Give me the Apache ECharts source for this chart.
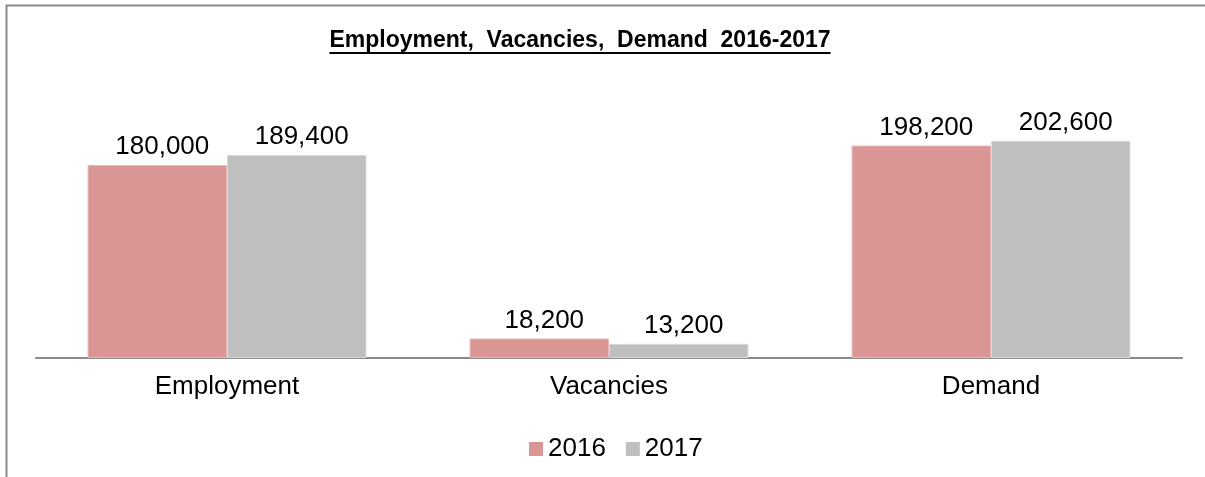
<!DOCTYPE html>
<html>
<head>
<meta charset="utf-8">
<script src="https://cdn.jsdelivr.net/npm/echarts@6/dist/echarts.min.js"></script>
<style>
  html, body { margin: 0; padding: 0; background: #fff; }
  #chart { width: 1205px; height: 477px; }
</style>
</head>
<body>
<div id="chart"></div>
<script>
var categories = ['Employment', 'Vacancies', 'Demand'];
var years = ['2016', '2017'];
var values2016 = [180000, 18200, 198200];
var values2017 = [189400, 13200, 202600];

var titleText = 'Employment,  Vacancies,  Demand  2016-2017';
var titleFont = 'bold 23px "Liberation Sans", Arial, sans-serif';
var fontFamily = '"Liberation Sans", Arial, sans-serif';

function measure(text, font) {
  var ctx = document.createElement('canvas').getContext('2d');
  ctx.font = font;
  return ctx.measureText(text).width;
}

var chart = echarts.init(document.getElementById('chart'));
var titleW = measure(titleText, titleFont);
var titleX = 580;

var labelStyle = {
  show: true,
  position: 'top',
  distance: 5,
  offset: [5, 0],
  color: '#000',
  fontSize: 26,
  fontFamily: fontFamily,
  formatter: function (p) { return p.value.toLocaleString('en-US'); }
};

option = {
  animation: false,
  graphic: [
    {
      type: 'rect',
      silent: true,
      shape: { x: 6.5, y: 5.5, width: 1400, height: 700 },
      style: { fill: 'none', stroke: '#8a8a8a', lineWidth: 2 }
    },
    {
      type: 'text',
      x: titleX,
      y: 41,
      style: {
        text: titleText,
        font: titleFont,
        fill: '#000',
        align: 'center',
        verticalAlign: 'middle'
      }
    },
    {
      type: 'rect',
      shape: { x: titleX - titleW / 2, y: 52, width: titleW, height: 2 },
      style: { fill: '#000' }
    }
  ],
  legend: {
    data: years,
    left: 524,
    top: 431,
    itemWidth: 14,
    itemHeight: 14,
    itemGap: 20,
    icon: 'rect',
    itemStyle: { borderWidth: 0 },
    textStyle: {
      fontSize: 26,
      color: '#000',
      fontFamily: fontFamily
    }
  },
  grid: {
    left: 36,
    right: 23,
    top: 90,
    bottom: 119
  },
  xAxis: {
    type: 'category',
    data: categories,
    axisLine: { lineStyle: { color: '#8a8a8a', width: 2 } },
    axisTick: { show: false },
    axisLabel: {
      color: '#000',
      fontSize: 26,
      margin: 16,
      fontFamily: fontFamily
    }
  },
  yAxis: {
    type: 'value',
    min: 0,
    max: 250000,
    show: false,
    splitLine: { show: false }
  },
  series: [
    {
      name: '2016',
      type: 'bar',
      data: values2016,
      barGap: '0%',
      barCategoryGap: '27%',
      itemStyle: { color: '#d99694', borderColor: '#e6b9b8', borderWidth: 1 },
      label: labelStyle
    },
    {
      name: '2017',
      type: 'bar',
      data: values2017,
      itemStyle: { color: '#bfbfbf', borderColor: '#d9d9d9', borderWidth: 1 },
      label: labelStyle
    }
  ]
};
chart.setOption(option);
</script>
</body>
</html>
